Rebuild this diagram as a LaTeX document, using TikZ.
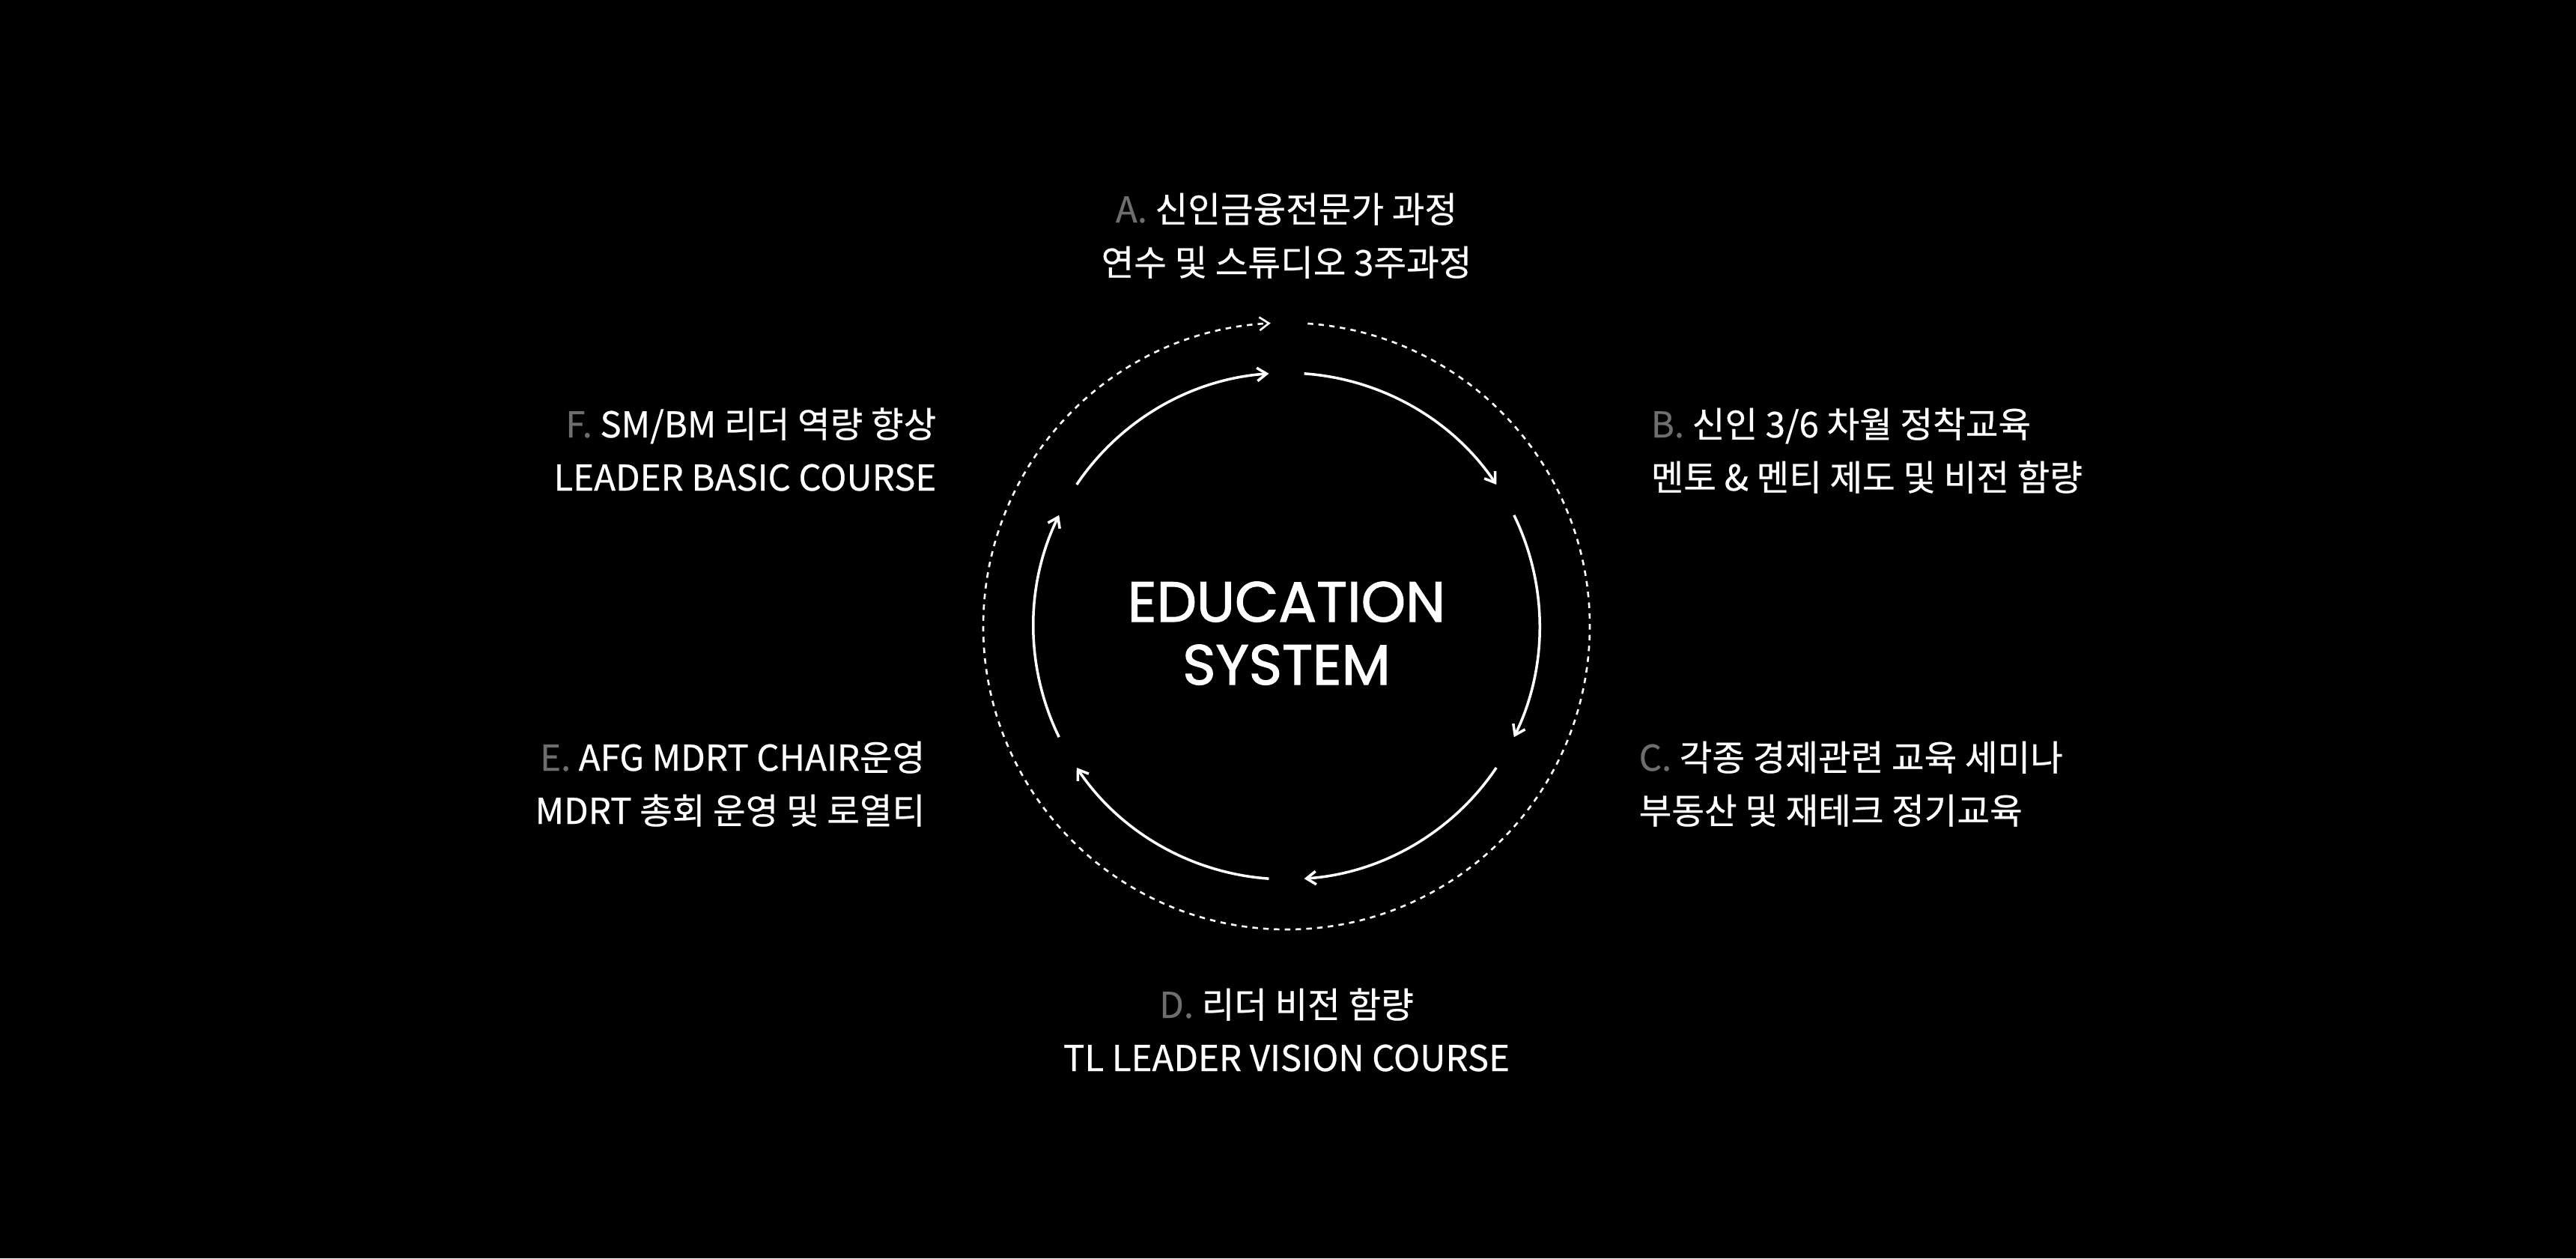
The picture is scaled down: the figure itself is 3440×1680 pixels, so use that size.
\documentclass[tikz,border=0pt]{standalone}
\usepackage{fontspec}
\usetikzlibrary{arrows.meta,positioning}
\newfontfamily\kofont[UprightFeatures={FakeBold=0.5}]{Noto Sans CJK KR}
\newfontfamily\titlefont[UprightFeatures={FakeBold=1.6}]{Poppins}
\definecolor{lettergray}{RGB}{110,110,110}
\newcommand{\steptag}[1]{{\color{lettergray}#1}}
\tikzset{
  hub/.style={text=white,align=center,inner sep=0pt,font=\titlefont\fontsize{21.5}{23.9}\selectfont},
  course/.style={text=white,inner sep=0pt,font=\kofont\fontsize{13.5}{20.2}\selectfont},
  ring/.style={draw=white,line width=1pt,-{Straight Barb[length=3.6pt,width=5pt]}},
  outer/.style={draw=white,line width=0.75pt,dash pattern=on 2.1pt off 2pt,-{Straight Barb[length=3.6pt,width=5pt]}}
}

\begin{document}
\begin{tikzpicture}[x=0.1mm,y=0.1mm]
  \fill[black] (0,0) rectangle (3440,1680);
  \useasboundingbox (0,0) rectangle (3440,1680);
  \coordinate (c) at (1718,844);
  \node[hub,anchor=base] (hub) at (1718,766) {EDUCATION\\SYSTEM};

  % outer dashed ring
  \draw[outer] ([shift={(86:405)}]c) arc[start angle=86,end angle=-267,radius=405];
  % six steps
  \foreach \a in {86,26,-34,-94,-154,-214}
    \draw[ring] ([shift={(\a:338)}]c) arc[start angle=\a,end angle=\a-52,radius=338];

  \node[course,anchor=base,align=center] (stepa) at (1718,1312)
    {\steptag{A.} 신인금융전문가 과정\\연수 및 스튜디오 3주과정};
  \node[course,anchor=base west,align=left] (stepb) at (2204,1025)
    {\steptag{B.} 신인 3/6 차월 정착교육\\멘토 \& 멘티 제도 및 비전 함량};
  \node[course,anchor=base west,align=left] (stepc) at (2188,580)
    {\steptag{C.} 각종 경제관련 교육 세미나\\부동산 및 재테크 정기교육};
  \node[course,anchor=base,align=center] (stepd) at (1718,250)
    {\steptag{D.} 리더 비전 함량\\TL LEADER VISION COURSE};
  \node[course,anchor=base east,align=right] (stepe) at (1236,580)
    {\steptag{E.} AFG MDRT CHAIR운영\\MDRT 총회 운영 및 로열티};
  \node[course,anchor=base east,align=right] (stepf) at (1251,1025)
    {\steptag{F.} SM/BM 리더 역량 향상\\LEADER BASIC COURSE};
\end{tikzpicture}
\end{document}
